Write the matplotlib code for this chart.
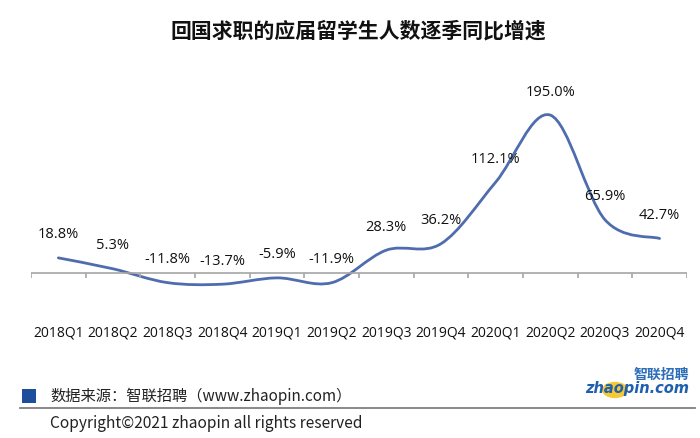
import matplotlib
matplotlib.use("Agg")
import matplotlib.pyplot as plt
from matplotlib.path import Path
from matplotlib.patches import PathPatch, Rectangle, Circle

plt.rcParams["font.family"] = ["Noto Sans CJK SC", "DejaVu Sans"]
latin = ["Open Sans", "Noto Sans CJK SC"]

# data
quarters = ["2018Q1", "2018Q2", "2018Q3", "2018Q4", "2019Q1", "2019Q2",
            "2019Q3", "2019Q4", "2020Q1", "2020Q2", "2020Q3", "2020Q4"]
growth = [18.8, 5.3, -11.8, -13.7, -5.9, -11.9, 28.3, 36.2, 112.1, 195.0, 65.9, 42.7]

line_color = "#4F6CAE"

fig = plt.figure(figsize=(7, 4.38), dpi=100)
fig.patch.set_facecolor("white")
ax = fig.add_axes([0.0443, 0.284, 0.937, 0.555])
ax.set_xlim(-0.5, len(quarters) - 0.5)
ax.set_ylim(-50, 250)
for s in ax.spines.values():
    s.set_visible(False)
ax.set_yticks([])

# smoothed line (excel style bezier through the points)
xs = list(range(len(growth)))
pts = list(zip(xs, growth))
verts = [pts[0]]
codes = [Path.MOVETO]
n = len(pts)
for i in range(n - 1):
    p0 = pts[max(i - 1, 0)]
    p1 = pts[i]
    p2 = pts[i + 1]
    p3 = pts[min(i + 2, n - 1)]
    c1 = (p1[0] + (p2[0] - p0[0]) / 6, p1[1] + (p2[1] - p0[1]) / 6)
    c2 = (p2[0] - (p3[0] - p1[0]) / 6, p2[1] - (p3[1] - p1[1]) / 6)
    verts += [c1, c2, p2]
    codes += [Path.CURVE4] * 3
ax.add_patch(PathPatch(Path(verts, codes), facecolor="none", edgecolor=line_color,
                       lw=2.0, capstyle="round"))

# data labels
for x, v in zip(xs, growth):
    ax.annotate(f"{v:.1f}%", (x, v), xytext=(0, 16.5), textcoords="offset points",
                ha="center", va="center", fontsize=10.5, color="#111111",
                family=latin)

# zero axis with boundary ticks
ax.axhline(0, color="#A6A6A6", lw=1.2)
ax.vlines([i - 0.5 for i in range(len(quarters) + 1)], -6.5, 0, color="#A6A6A6", lw=1.2)

ax.set_xticks(xs)
ax.set_xticklabels(quarters, fontsize=10, color="#111111", family=latin)
ax.tick_params(axis="x", length=0, pad=8.5)

# title
fig.text(0.512, 0.93, "回国求职的应届留学生人数逐季同比增速", ha="center", va="center",
         fontsize=15, fontweight="bold", color="#111111")

# footer
fig.patches.append(Rectangle((22 / 700, 1 - 403 / 438), 14 / 700, 14 / 438,
                             transform=fig.transFigure, facecolor="#1D4E9B",
                             edgecolor="none"))
fig.text(50 / 700, 1 - 396 / 438, "数据来源：智联招聘（www.zhaopin.com）",
         ha="left", va="center", fontsize=11, color="#222222")
fig.add_artist(plt.Line2D([20 / 700, 695 / 700], [1 - 408 / 438, 1 - 408 / 438],
                          transform=fig.transFigure, color="#7F7F7F", lw=1.3))
fig.text(50 / 700, 1 - 424 / 438, "Copyright©2021 zhaopin all rights reserved",
         ha="left", va="center", fontsize=11.2, color="#222222")

# logo
fig.patches.append(Circle((615 / 700, 1 - 390 / 438), 13 / 700,
                          transform=fig.transFigure, facecolor="#F7C21B",
                          edgecolor="none", alpha=0.9))
fig.text(689 / 700, 1 - 375 / 438, "智联招聘", ha="right", va="center",
         fontsize=10, fontweight="bold", style="italic", color="#2B6DB8")
fig.text(689 / 700, 1 - 388 / 438, "zhaopin.com", ha="right", va="center",
         fontsize=10.5, fontweight="bold", style="italic", color="#1F5FAF",
         family="DejaVu Sans")

fig.savefig("out.png", dpi=100)
